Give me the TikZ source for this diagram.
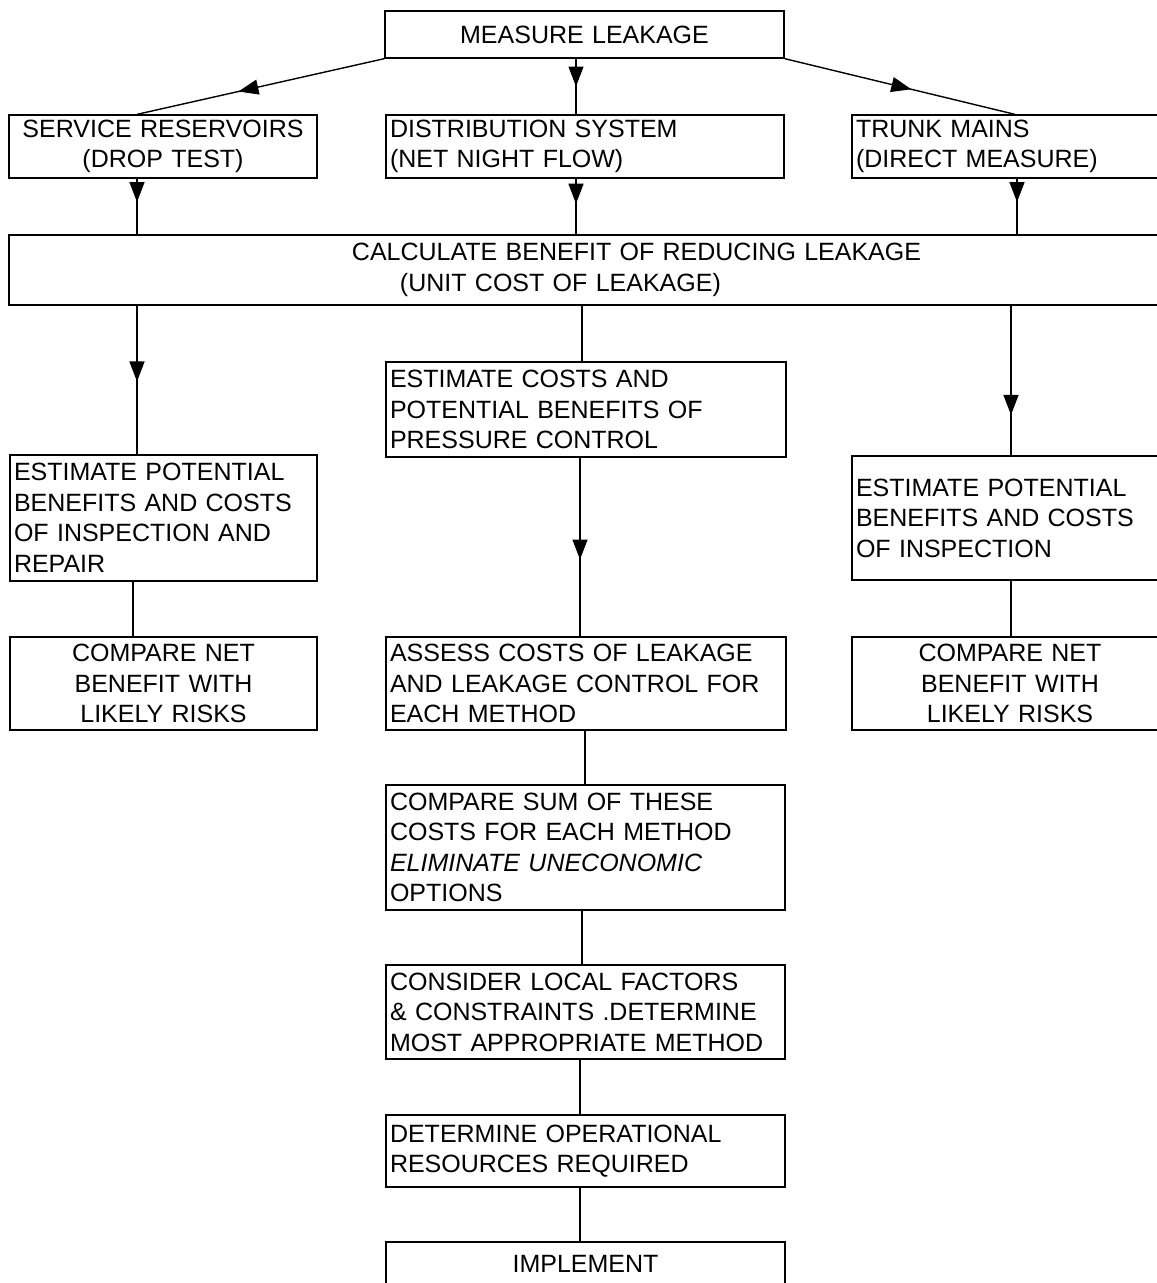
\documentclass[tikz,border=0pt]{standalone}
\usepackage{fontspec}
\setmainfont{Liberation Sans}
\usetikzlibrary{arrows.meta,decorations.markings}
\begin{document}
\begin{tikzpicture}[x=1pt,y=-1pt,
  box/.style={draw, line width=1.3pt, rectangle, inner xsep=4pt, inner ysep=0pt,
    font=\fontsize{25}{30.5}\selectfont},
  conn/.style={line width=1.4pt},
  midarr/.style={postaction={decorate,decoration={markings,
    mark=at position #1 with {\arrow{Triangle[length=20pt,width=15pt]}}}}}]
\useasboundingbox (0,0) rectangle (1157,1283);

% boxes
\node[box, minimum width=399pt, minimum height=47pt, text width=391pt, align=center]
  (measure) at (584.5,34.5) {MEASURE LEAKAGE};
\node[box, minimum width=308pt, minimum height=63pt, text width=300pt, align=center]
  (service) at (163,146.5) {SERVICE RESERVOIRS\\(DROP TEST)};
\node[box, minimum width=398pt, minimum height=63pt, text width=390pt, align=left]
  (distr) at (585,146.5) {DISTRIBUTION SYSTEM\\(NET NIGHT FLOW)};
\node[box, minimum width=316pt, minimum height=63pt, text width=308pt, align=left]
  (trunk) at (1010,146.5) {TRUNK MAINS\\(DIRECT MEASURE)};
\node[box, minimum width=1159pt, minimum height=70pt, text width=1151pt, align=left]
  (calc) at (588.5,270) {\hspace*{339pt}CALCULATE BENEFIT OF REDUCING LEAKAGE\\\hspace*{387pt}(UNIT COST OF LEAKAGE)};
\node[box, minimum width=400pt, minimum height=95pt, text width=392pt, align=left]
  (midest) at (586,409.5) {ESTIMATE COSTS AND\\POTENTIAL BENEFITS OF\\PRESSURE CONTROL};
\node[box, minimum width=307pt, minimum height=126pt, text width=299pt, align=left]
  (leftest) at (163.5,518) {ESTIMATE POTENTIAL\\BENEFITS AND COSTS\\OF INSPECTION AND\\REPAIR};
\node[box, minimum width=316pt, minimum height=124pt, text width=308pt, align=left]
  (rightest) at (1010,518) {ESTIMATE POTENTIAL\\BENEFITS AND COSTS\\OF INSPECTION};
\node[box, minimum width=307pt, minimum height=93pt, text width=299pt, align=center]
  (cmpL) at (163.5,683.5) {COMPARE NET\\BENEFIT WITH\\LIKELY RISKS};
\node[box, minimum width=400pt, minimum height=93pt, text width=392pt, align=left]
  (assess) at (586,683.5) {ASSESS COSTS OF LEAKAGE\\AND LEAKAGE CONTROL FOR\\EACH METHOD};
\node[box, minimum width=316pt, minimum height=93pt, text width=308pt, align=center]
  (cmpR) at (1010,683.5) {COMPARE NET\\BENEFIT WITH\\LIKELY RISKS};
\node[box, minimum width=399pt, minimum height=125pt, text width=391pt, align=left]
  (cmpsum) at (585.5,847.5) {COMPARE SUM OF THESE\\COSTS FOR EACH METHOD\\{\itshape ELIMINATE UNECONOMIC}\\OPTIONS};
\node[box, minimum width=399pt, minimum height=94pt, text width=391pt, align=left]
  (consider) at (585.5,1012) {CONSIDER LOCAL FACTORS\\\& CONSTRAINTS .DETERMINE\\MOST APPROPRIATE METHOD};
\node[box, minimum width=399pt, minimum height=72pt, text width=391pt, align=left]
  (determine) at (585.5,1151) {DETERMINE OPERATIONAL\\RESOURCES REQUIRED};
\node[box, minimum width=399pt, minimum height=44pt, text width=391pt, align=center]
  (implement) at (585.5,1264) {IMPLEMENT};

% column coordinates
\coordinate (cL) at (137,0);
\coordinate (cLb) at (133,0);
\coordinate (cM1) at (576,0);
\coordinate (cM2) at (582,0);
\coordinate (cM3) at (580,0);
\coordinate (cM4) at (585,0);
\coordinate (cR1) at (1015,0);
\coordinate (cR2) at (1017,0);
\coordinate (cR3) at (1011,0);

% connectors
\draw[conn, midarr=0.59] (measure.south west) -- (cL |- service.north);
\draw[conn, midarr=0.5] (cM1 |- measure.south) -- (cM1 |- distr.north);
\draw[conn, midarr=0.55] (measure.south east) -- (cR1 |- trunk.north);
\draw[conn, midarr=0.42] (cL |- service.south) -- (cL |- calc.north);
\draw[conn, midarr=0.45] (cM1 |- distr.south) -- (cM1 |- calc.north);
\draw[conn, midarr=0.42] (cR2 |- trunk.south) -- (cR2 |- calc.north);
\draw[conn, midarr=0.51] (cL |- calc.south) -- (cL |- leftest.north);
\draw[conn] (cM2 |- calc.south) -- (cM2 |- midest.north);
\draw[conn, midarr=0.73] (cR3 |- calc.south) -- (cR3 |- rightest.north);
\draw[conn, midarr=0.57] (cM3 |- midest.south) -- (cM3 |- assess.north);
\draw[conn] (cLb |- leftest.south) -- (cLb |- cmpL.north);
\draw[conn] (cR3 |- rightest.south) -- (cR3 |- cmpR.north);
\draw[conn] (cM4 |- assess.south) -- (cM4 |- cmpsum.north);
\draw[conn] (cM2 |- cmpsum.south) -- (cM2 |- consider.north);
\draw[conn] (cM3 |- consider.south) -- (cM3 |- determine.north);
\draw[conn] (cM3 |- determine.south) -- (cM3 |- implement.north);
\end{tikzpicture}
\end{document}
